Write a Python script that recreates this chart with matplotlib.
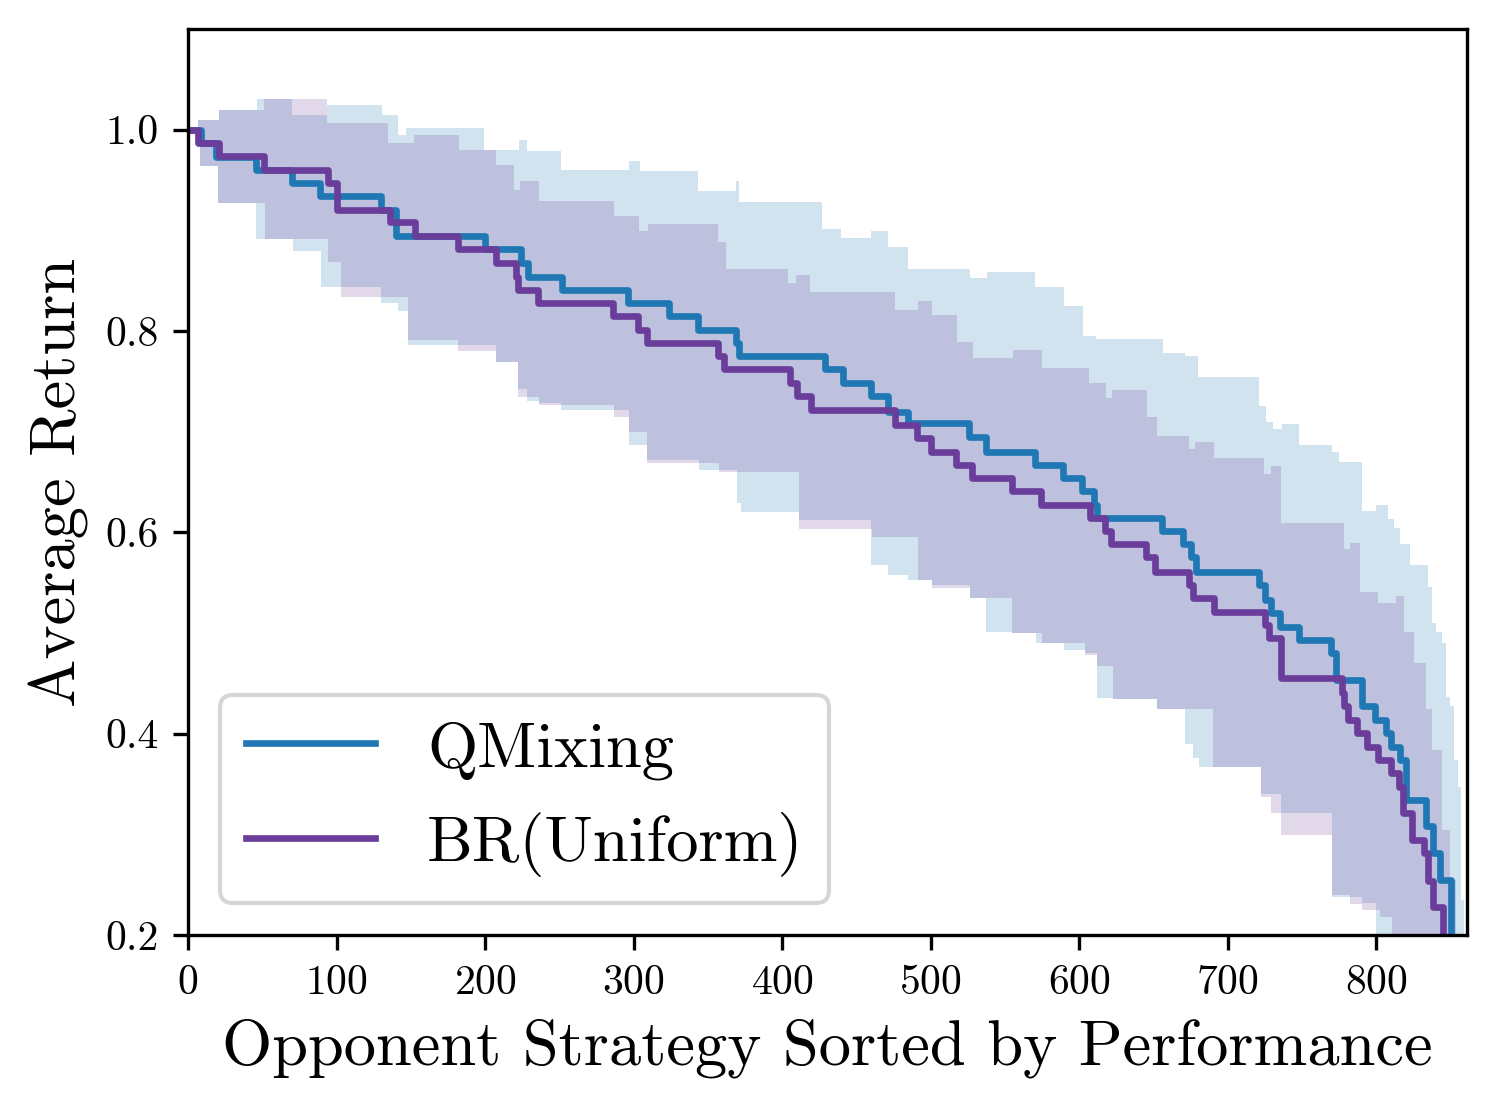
import numpy as np
import matplotlib
matplotlib.use("Agg")
import matplotlib.pyplot as plt

plt.rcParams['font.family'] = 'serif'
plt.rcParams['font.serif'] = ['cmr10']
plt.rcParams['mathtext.fontset'] = 'cm'
plt.rcParams['axes.formatter.use_mathtext'] = True

# step curves: x where each level starts, and the level
qmix_x = [0, 9, 19, 46, 70, 88.6, 130, 140, 199.6, 224, 229, 251.5, 296, 324, 343, 369, 371,
          428.7, 441, 460, 471, 484.5, 526, 537.5, 570, 589, 602, 610, 612, 656, 669.6, 675,
          678.7, 721, 725, 729, 735, 748, 769.6, 773, 790, 799, 806.6, 810, 815.6, 820, 833.6,
          838, 843, 850]
qmix_y = [1.000, 0.987, 0.973, 0.960, 0.947, 0.934, 0.920, 0.894, 0.881, 0.868, 0.854, 0.841,
          0.828, 0.815, 0.801, 0.788, 0.775, 0.762, 0.748, 0.735, 0.720, 0.709, 0.695, 0.680,
          0.667, 0.654, 0.641, 0.627, 0.614, 0.601, 0.588, 0.575, 0.561, 0.548, 0.533, 0.520,
          0.506, 0.493, 0.480, 0.453, 0.427, 0.414, 0.401, 0.387, 0.374, 0.334, 0.308, 0.281,
          0.255, 0.100]

br_x = [0, 6.7, 21, 51, 94, 100, 136, 152.5, 182, 207, 221, 222, 235.6, 286, 303, 309, 357,
        361, 405, 410, 419.7, 475.8, 491, 500, 517, 528, 555, 574.5, 607, 617, 621.6, 645,
        650.7, 674, 676.6, 691, 724.8, 728, 735.6, 777, 778.5, 780.7, 787, 794, 801, 810, 815,
        817.6, 824, 832, 835, 838, 845]
br_y = [1.000, 0.987, 0.974, 0.960, 0.947, 0.920, 0.908, 0.894, 0.881, 0.868, 0.854, 0.841,
        0.828, 0.815, 0.801, 0.788, 0.775, 0.762, 0.748, 0.735, 0.722, 0.707, 0.694, 0.680,
        0.667, 0.654, 0.641, 0.627, 0.614, 0.601, 0.588, 0.575, 0.561, 0.548, 0.535, 0.521,
        0.508, 0.495, 0.455, 0.440, 0.427, 0.414, 0.401, 0.387, 0.374, 0.361, 0.347, 0.321,
        0.294, 0.281, 0.254, 0.228, 0.100]

# shaded bands (upper / lower edges)
qmix_hi_x = [0, 6.9, 20.6, 46.7, 70, 93.4, 130.5, 141.4, 147, 199, 222.5, 228, 251, 296.6,
             304, 343, 369, 371, 427, 439.6, 460, 471, 484.5, 526.4, 537.6, 570.5, 589.5,
             602.6, 611, 656.5, 671, 680, 721, 725.4, 730.5, 736.7, 747.8, 770, 775, 790.5,
             799.6, 807.7, 811.8, 816, 822.7, 834.8, 837.5, 840.3, 844.3, 847, 849.7, 852.4,
             855, 857.2, 859]
qmix_hi_y = [1.000, 1.010, 1.020, 1.030, 1.015, 1.025, 1.015, 0.995, 1.002, 0.980, 0.990,
             0.979, 0.960, 0.969, 0.959, 0.939, 0.949, 0.928, 0.901, 0.892, 0.899, 0.883,
             0.862, 0.853, 0.859, 0.844, 0.825, 0.795, 0.792, 0.778, 0.775, 0.754, 0.725,
             0.710, 0.703, 0.708, 0.687, 0.680, 0.670, 0.621, 0.627, 0.613, 0.604, 0.588,
             0.568, 0.546, 0.510, 0.501, 0.490, 0.436, 0.427, 0.374, 0.347, 0.235, 0.100]
qmix_lo_x = [0, 7.9, 20.2, 46, 70.7, 89.7, 130, 141.3, 148, 207, 222, 228, 236, 251, 297,
             309, 344, 369.5, 372.5, 411.5, 459.6, 471, 484.8, 501, 526.7, 537.5, 555, 571,
             590, 603.7, 611.8, 622.6, 652.4, 671, 676.7, 680.8, 722.6, 736, 770, 790, 800]
qmix_lo_y = [1.000, 0.964, 0.927, 0.891, 0.879, 0.844, 0.828, 0.820, 0.786, 0.769, 0.742,
             0.730, 0.728, 0.722, 0.687, 0.672, 0.662, 0.629, 0.620, 0.612, 0.568, 0.558,
             0.553, 0.548, 0.535, 0.501, 0.500, 0.490, 0.483, 0.480, 0.435, 0.434, 0.424,
             0.390, 0.376, 0.367, 0.340, 0.321, 0.238, 0.232, 0.150]

br_hi_x = [0, 6.9, 20.6, 50.8, 93.4, 134.6, 152.4, 182.6, 207.4, 219.7, 223.8, 236.2, 287,
           303.5, 309.6, 356.6, 362, 403.8, 409.4, 418.8, 475.6, 491.5, 500.7, 517.4, 528.6,
           555.7, 574.7, 606.8, 618, 622, 645.9, 652, 673.8, 678, 690.6, 724.6, 729, 735.8,
           778, 782, 789, 801, 813, 818.6, 825.4, 833.5, 837.5, 844.3, 849.7, 853.8]
br_hi_y = [1.000, 1.010, 1.020, 1.030, 1.007, 0.987, 0.995, 0.980, 0.965, 0.940, 0.949,
           0.929, 0.914, 0.899, 0.906, 0.888, 0.862, 0.848, 0.856, 0.839, 0.821, 0.830,
           0.816, 0.789, 0.773, 0.781, 0.763, 0.748, 0.733, 0.741, 0.715, 0.696, 0.683,
           0.690, 0.674, 0.658, 0.666, 0.609, 0.583, 0.589, 0.541, 0.530, 0.537, 0.501,
           0.470, 0.424, 0.384, 0.304, 0.255, 0.150]
br_lo_x = [0, 7.9, 20.2, 51.6, 94.2, 103.2, 148, 181.7, 207, 222, 236, 287, 297, 309, 357.5,
           411.5, 460.4, 491.5, 501, 526.7, 555, 575, 603.7, 611.8, 622.6, 652.4, 690, 722.6,
           729.4, 736, 770, 782, 790, 802.5, 810.5]
br_lo_y = [1.000, 0.964, 0.927, 0.891, 0.869, 0.834, 0.791, 0.780, 0.769, 0.734, 0.726,
           0.715, 0.700, 0.669, 0.660, 0.603, 0.595, 0.553, 0.545, 0.535, 0.500, 0.490,
           0.478, 0.467, 0.434, 0.424, 0.367, 0.337, 0.321, 0.299, 0.240, 0.231, 0.225,
           0.218, 0.150]

x_end = 861
c_qmix = '#1f77b4'
c_br = '#6a3d9a'


def level_at(xs, ys, grid):
    idx = np.searchsorted(xs, grid, side='right') - 1
    return np.asarray(ys)[idx]


fig = plt.figure(figsize=(1496 / 300, 1107 / 300), dpi=300)
ax = fig.add_axes([0.1257, 0.1554, 0.8549, 0.8184])

for hx, hy, lx, ly, col in [(qmix_hi_x, qmix_hi_y, qmix_lo_x, qmix_lo_y, c_qmix),
                            (br_hi_x, br_hi_y, br_lo_x, br_lo_y, c_br)]:
    grid = np.unique(np.concatenate([hx, lx, [x_end]]))
    ax.fill_between(grid, level_at(lx, ly, grid), level_at(hx, hy, grid),
                    step='post', color=col, alpha=0.2, linewidth=0)

ax.step(qmix_x + [x_end], qmix_y + [qmix_y[-1]], where='post', color=c_qmix, lw=1.6,
        label='QMixing')
ax.step(br_x + [x_end], br_y + [br_y[-1]], where='post', color=c_br, lw=1.6,
        label='BR(Uniform)')

ax.set_xlim(0, x_end)
ax.set_ylim(0.2, 1.1)
ax.set_xticks(range(0, 801, 100))
ax.set_yticks([0.2, 0.4, 0.6, 0.8, 1.0])
ax.set_yticklabels(['0.2', '0.4', '0.6', '0.8', '1.0'])
ax.tick_params(labelsize=10)
ax.set_xlabel('Opponent Strategy Sorted by Performance', fontsize=15.5)
ax.set_ylabel('Average Return', fontsize=15.5)
ax.legend(loc='lower left', fontsize=15.5)

fig.savefig('out.png', dpi=300)
